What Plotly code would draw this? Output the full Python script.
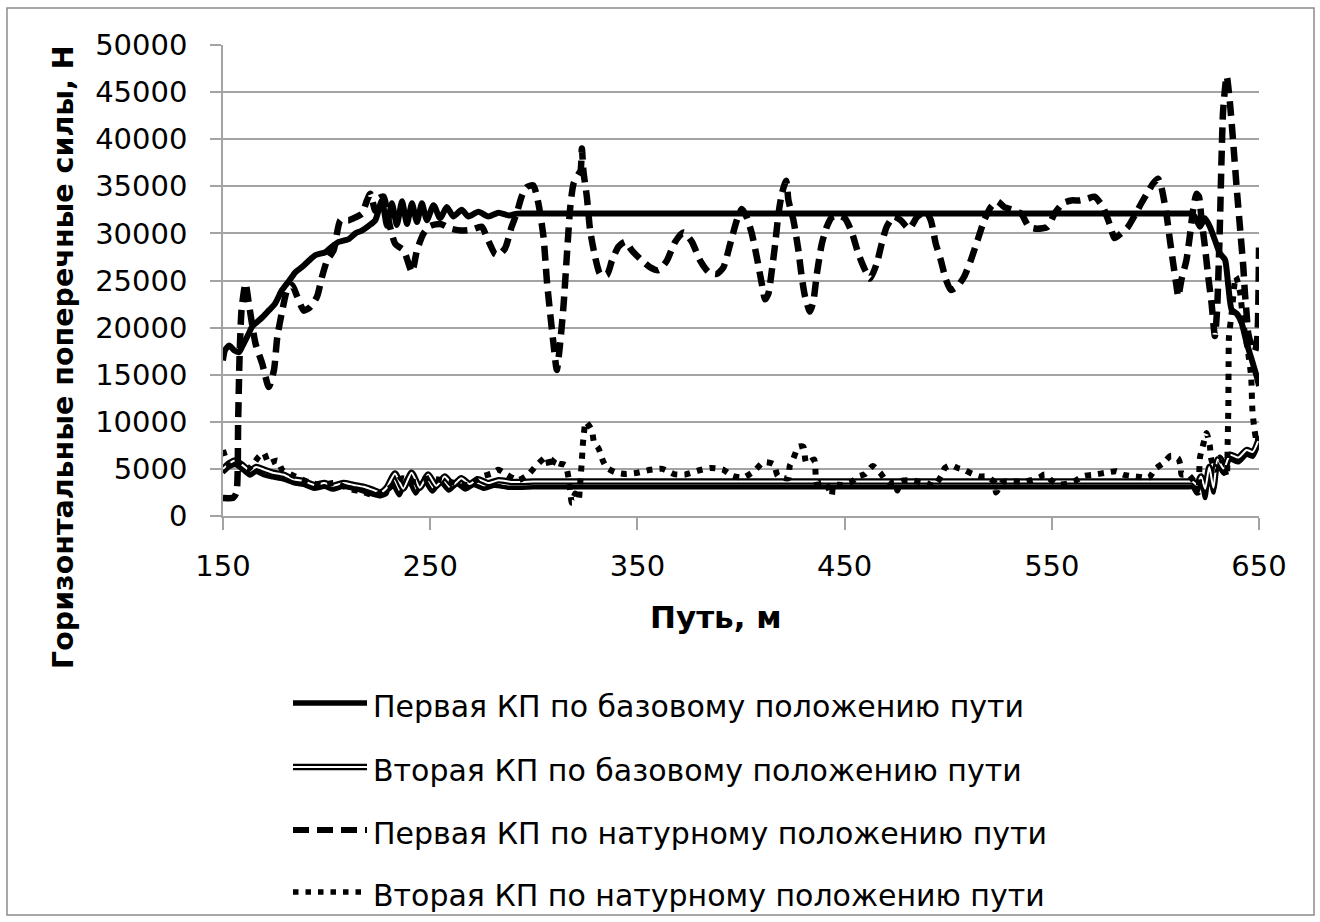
import plotly.graph_objects as go

# ---- data -------------------------------------------------------------
X_TICKS = [150, 250, 350, 450, 550, 650]
Y_TICKS = list(range(0, 50001, 5000))

SERIES_NAMES = [
    "Первая КП по базовому положению пути",
    "Вторая КП по базовому положению пути",
    "Первая КП по натурному положению пути",
    "Вторая КП по натурному положению пути",
]

# first wheelset, base track geometry (path m, force N)
FIRST_BASE = [
    (150, 16500), (151, 17600), (153, 18100), (155.3, 17600), (157.7, 17400),
    (159.3, 18000), (162.5, 19400), (164, 20100), (166.5, 20600), (169, 21100),
    (172, 21800), (175, 22500), (178.5, 24000), (182, 25000), (185, 25900),
    (188, 26400), (191.4, 27100), (194.6, 27700), (199.4, 28000), (202.6, 28600),
    (205.8, 29100), (210.7, 29400), (213.9, 30000), (217, 30300), (220.3, 30800),
    (223.5, 31400), (226.7, 33500), (229.1, 30800), (231.5, 33200), (233.9, 30900),
    (236.4, 33400), (238.8, 31000), (241.2, 33200), (243.6, 31200), (246, 33200),
    (248.4, 31400), (251.6, 33000), (254.8, 31600), (258, 32800), (261.2, 31800),
    (265.2, 32500), (268.4, 31800), (273.3, 32300), (278, 31800), (283, 32200),
    (288, 31900), (292, 32100), (300, 32100), (305, 32100), (610, 32100),
    (615, 32100), (617.5, 32100), (619, 31800),
    (621.5, 30700), (623.9, 31600), (626.3, 30700), (628.7, 29300), (631.1, 27900),
    (633.6, 27200), (635.2, 24400), (636.8, 21900), (639.2, 21500), (641.6, 20500),
    (644, 18400), (646.5, 16600), (648.9, 14800), (650, 13800),
]

# second wheelset, base track geometry: outlined trace and its lower companion
SECOND_BASE = [
    (150, 5000), (153, 5600), (156, 5900), (160, 5300), (163, 4800), (166, 5200),
    (170, 4900), (174, 4600), (179, 4400), (184, 3900), (189, 3700), (194, 3300),
    (199, 3500), (203, 3200), (208, 3500), (213, 3300), (218, 3100), (222, 2800),
    (226, 2500), (229, 3000), (233, 4500), (237, 2900), (241, 4600), (245, 3000),
    (249, 4400), (253, 3200), (257, 4200), (261, 3300), (265, 4000), (269, 3400),
    (273, 3900), (278, 3500), (283, 3800), (290, 3600), (300, 3650), (305, 3650),
    (610, 3650), (615, 3650), (618, 3650),
    (620, 3300), (622, 4200), (624, 2900), (626, 5200), (628, 3000), (630, 6000),
    (633, 5000), (636, 6500), (640, 6200), (644, 7000), (647, 6800), (650, 8200),
]
SECOND_BASE_LOWER = [
    (150, 4600), (153, 5200), (156, 5400), (160, 4800), (163, 4300), (166, 4700),
    (170, 4300), (174, 4100), (179, 3900), (184, 3500), (189, 3300), (194, 2900),
    (199, 3100), (203, 2800), (208, 3100), (213, 2900), (218, 2600), (222, 2300),
    (226, 2100), (229, 2400), (231, 3800), (235, 2200), (239, 4000), (243, 2400),
    (247, 3800), (251, 2600), (255, 3600), (259, 2700), (263, 3400), (267, 2800),
    (271, 3300), (276, 2900), (281, 3200), (288, 3000), (300, 3050), (305, 3050),
    (610, 3050), (615, 3050), (618, 3050),
    (620, 2400), (622, 3800), (624, 1900), (626, 4600), (628, 2500), (630, 5400),
    (633, 4500), (636, 6000), (640, 5700), (644, 6500), (647, 6300), (650, 7800),
]

# first wheelset, measured track geometry
FIRST_FIELD = [
    (150, 1900), (155, 1950), (156.5, 2500), (157.3, 10000), (158, 17000),
    (159, 22000), (160.9, 24700), (162.5, 22500), (165.7, 18300), (168.9, 16200),
    (172.1, 13700), (174.6, 15500), (176.2, 19000), (178.6, 21800), (181, 24000),
    (183.4, 24500), (185.8, 23300), (189, 21800), (192.2, 22200), (195.4, 23300),
    (197.8, 25400), (200.2, 27100), (203.4, 28200), (206.7, 31400), (210.7, 31400),
    (213.9, 31700), (217.1, 32100), (219.5, 33500), (221.1, 34200), (223.5, 32400),
    (225.1, 33700), (227.5, 33900), (229.9, 31400), (233.1, 28900), (237.2, 28200),
    (241.2, 25900), (243.6, 28200), (246.8, 30000), (250, 30800), (255, 31000),
    (260, 30500), (265, 30300), (270, 30400), (274.9, 30700), (277.3, 29600),
    (281.3, 27800), (282.9, 27700), (286.1, 28400), (289.3, 30700), (291.7, 32100),
    (294.1, 33900), (296.5, 34900), (299.7, 35100), (302.2, 33200), (304.7, 29600),
    (306.3, 25000), (307.9, 21500), (309.5, 18300), (311.1, 15500), (312.7, 18300),
    (314.4, 22500), (316, 27800), (317.6, 32800), (319.2, 35300), (321.6, 36300),
    (322.6, 36700), (323.2, 39000), (324, 36500), (325.6, 33900), (327.2, 30300),
    (329.6, 27500), (332, 25700), (335.3, 25600), (337.7, 27100), (340.9, 28600),
    (344.1, 29100), (347.3, 28200), (351.3, 27300), (356.2, 26400), (360.2, 26100),
    (364.2, 27100), (368.2, 29100), (372.2, 30100), (376.3, 29100), (380.3, 27100),
    (384.3, 25900), (388.3, 25700), (391.5, 26400), (394.8, 28900), (398, 31400),
    (400.4, 32600), (402.8, 31700), (405.2, 30000), (407.6, 27500), (410, 24700),
    (411.6, 23000), (413.2, 23600), (414.9, 26100), (416.5, 28900), (418.1, 32100),
    (419.7, 34200), (421.8, 35600), (422.9, 33500), (425.3, 31400), (427.7, 28200),
    (429.3, 25400), (430.9, 23300), (433.3, 21700), (435, 22900), (436.6, 25700),
    (439, 28900), (441.4, 30700), (443.8, 31700), (447, 31900), (450.2, 31600),
    (453.5, 30100), (456.7, 27800), (459.9, 26100), (462.3, 25200), (465.5, 26800),
    (467.9, 28900), (470.3, 30700), (473.9, 31800), (477.1, 31400), (481.1, 30500),
    (485.2, 31800), (489.2, 32300), (491.6, 31400), (494, 28900), (496.4, 27200),
    (498.9, 25100), (501.3, 24000), (504.5, 24400), (507.7, 25400), (511, 27200),
    (514.2, 29300), (517.4, 31400), (520.6, 32800), (523.8, 33400), (527, 32800),
    (531.1, 32500), (535.2, 32100), (539, 30700), (543, 30500), (548, 30700),
    (551.3, 32100), (555.3, 33200), (559.4, 33500), (563.4, 33500), (567.4, 33700),
    (570.6, 33900), (574.7, 32800), (577.9, 31000), (580.3, 29500), (583.5, 30000),
    (586.8, 30700), (590, 31900), (593.2, 33200), (596.4, 34400), (598.9, 35300),
    (601.3, 35800), (602.9, 34900), (605.3, 32100), (607, 29300), (608.6, 26800),
    (610.2, 24400), (611, 23300), (612.6, 25100), (615, 27200), (616.6, 29700),
    (618.2, 32500), (619.8, 34200), (621, 33900), (622.3, 31400), (623.9, 28600),
    (625.5, 25400), (627.1, 22600), (628.7, 19100), (629.8, 22000), (631.1, 30700),
    (631.9, 37800), (632.7, 43100), (634.4, 46700), (636, 43800), (637.6, 39500),
    (639.2, 34900), (640.8, 30700), (642.4, 26500), (643.2, 23700), (644, 21500),
    (644.8, 19400), (646.5, 18000), (648, 17500), (649.2, 19000), (650, 28500),
]

# second wheelset, measured track geometry
SECOND_FIELD = [
    (150, 7000), (152.9, 5400), (155.3, 5900), (157.7, 5600), (161.7, 4900),
    (164.9, 5600), (167.3, 6300), (169.7, 6700), (172.1, 5600), (176.2, 5900),
    (178.6, 4900), (185, 4200), (191.4, 3600), (197.8, 3300), (204.2, 3500),
    (210.7, 2900), (217.1, 2600), (223.5, 2200), (229.9, 2900), (236.3, 4000),
    (242.8, 3600), (249.2, 4000), (255.6, 3800), (262, 3500), (268.4, 3300),
    (274.9, 4200), (279.7, 4500), (282.9, 4900), (286.9, 4400), (292.5, 3800),
    (297.3, 4400), (301.4, 5400), (306.3, 6300), (307.9, 5100), (310.3, 6100),
    (311.9, 5600), (315.2, 5400), (316.8, 4000), (318.4, 1400), (320, 2400),
    (321.6, 1700), (322.4, 3500), (323.2, 5900), (323.6, 7400), (324.2, 8800),
    (325.1, 10000), (328, 9100), (329.1, 7800), (331.2, 7200), (333.3, 5900),
    (335.3, 5100), (339.8, 4600), (344.6, 4450), (350.1, 4600), (356.2, 4900),
    (362.1, 5000), (367.7, 4450), (373.1, 4400), (379, 4800), (385.1, 5100),
    (391.1, 4950), (396, 4250), (401.2, 4100), (406.5, 4800), (410.8, 5700),
    (415.7, 5500), (417.8, 4250), (422.9, 4000), (423.5, 5300), (425.3, 6100),
    (427.7, 7350), (430.1, 7350), (431, 6000), (431.7, 5600), (435.3, 6000),
    (436, 4500), (436.5, 3500), (440.6, 3600), (443.8, 2200), (444.6, 3300),
    (448.6, 3300), (452.6, 3500), (456.7, 4200), (459.9, 4450), (463.6, 5300),
    (467.1, 4600), (471.1, 3500), (474.4, 3500), (475.5, 2700), (477.1, 3700),
    (482, 3800), (486.8, 3600), (490, 3450), (493.3, 3200), (496.5, 4200),
    (498.4, 5100), (501.3, 5400), (504.5, 5100), (507.8, 4900), (511.3, 4500),
    (515, 4200), (518.3, 4200), (522.3, 3600), (523.1, 2500), (526.3, 3600),
    (531.2, 3700), (536, 3600), (540, 3800), (544.1, 4100), (546.5, 4400),
    (549.7, 3800), (553, 3350), (557.8, 3450), (561, 3700), (565.4, 4250),
    (570.7, 4400), (576.3, 4600), (581.2, 4750), (584.4, 4400), (588.4, 4250),
    (592.5, 4150), (596.8, 4050), (600, 5000), (603.7, 5600), (607.5, 6400),
    (611, 6100), (612.3, 5200), (612.6, 4400), (615.8, 4400), (619.1, 3500),
    (620.7, 2500), (621.5, 6200), (623.1, 7600), (624.7, 8800), (626.3, 7400),
    (626.8, 6200), (628.8, 4900), (631.2, 6200), (632.8, 5500), (634.4, 4200),
    (634.9, 8100), (635.2, 11600), (635.3, 15200), (635.5, 19000), (636.8, 21500),
    (638.8, 25400), (640.9, 23700), (642.4, 20500), (644.6, 17600), (646.2, 14800),
    (646.8, 11300), (647.8, 9200), (649, 7800), (650, 8500),
]

# ---- layout geometry --------------------------------------------------
W, H = 1320, 922
ML, MR, MT, MB = 223, 61, 45, 406
FONT = "DejaVu Sans"
GRID = "#a3a3a3"


def fx(px):
    """page x pixel -> paper coordinate"""
    return (px - ML) / (W - ML - MR)


def fy(py):
    """page y pixel -> paper coordinate"""
    return (H - MB - py) / (H - MT - MB)


def xs(pts):
    return [p[0] for p in pts]


def ys(pts):
    return [p[1] for p in pts]


SMOOTH = 0.6
fig = go.Figure()

fig.add_trace(go.Scatter(
    x=xs(FIRST_BASE), y=ys(FIRST_BASE), mode="lines", name=SERIES_NAMES[0],
    line=dict(color="black", width=6, shape="spline", smoothing=SMOOTH),
))
fig.add_trace(go.Scatter(
    x=xs(SECOND_BASE_LOWER), y=ys(SECOND_BASE_LOWER), mode="lines",
    name=SERIES_NAMES[1], legendgroup="b2",
    line=dict(color="black", width=4.5, shape="spline", smoothing=SMOOTH),
))
fig.add_trace(go.Scatter(
    x=xs(SECOND_BASE), y=ys(SECOND_BASE), mode="lines",
    name=SERIES_NAMES[1], legendgroup="b2",
    line=dict(color="black", width=6.5, shape="spline", smoothing=SMOOTH),
))
fig.add_trace(go.Scatter(
    x=xs(SECOND_BASE), y=ys(SECOND_BASE), mode="lines",
    name=SERIES_NAMES[1], legendgroup="b2",
    line=dict(color="white", width=2, shape="spline", smoothing=SMOOTH),
))
fig.add_trace(go.Scatter(
    x=xs(FIRST_FIELD), y=ys(FIRST_FIELD), mode="lines", name=SERIES_NAMES[2],
    line=dict(color="black", width=6.5, dash="15px,8px",
              shape="spline", smoothing=SMOOTH),
))
fig.add_trace(go.Scatter(
    x=xs(SECOND_FIELD), y=ys(SECOND_FIELD), mode="lines", name=SERIES_NAMES[3],
    line=dict(color="black", width=6, dash="6px,7px",
              shape="spline", smoothing=SMOOTH),
))

# ---- hand-placed legend under the plot --------------------------------
LEG_X0, LEG_X1, LEG_TEXT_X = 293, 367, 371
LEG_ROWS = [703, 767, 830, 892]

shapes = [
    # outer chart frame
    dict(type="rect", xref="paper", yref="paper",
         x0=fx(7), x1=fx(1314), y0=fy(915), y1=fy(8),
         line=dict(color="#8c8c8c", width=1.5), fillcolor="rgba(0,0,0,0)"),
]
legend_styles = [
    [dict(color="black", width=5.5)],
    [dict(color="black", width=6.5), dict(color="white", width=2.2)],
    [dict(color="black", width=6, dash="16px,8px")],
    [dict(color="black", width=5.5, dash="5.5px,7px")],
]
annotations = []
for row_y, styles, label in zip(LEG_ROWS, legend_styles, SERIES_NAMES):
    for st in styles:
        shapes.append(dict(type="line", xref="paper", yref="paper",
                           x0=fx(LEG_X0), x1=fx(LEG_X1),
                           y0=fy(row_y), y1=fy(row_y), line=st))
    annotations.append(dict(
        xref="paper", yref="paper", x=fx(LEG_TEXT_X), y=fy(row_y + 3),
        xanchor="left", yanchor="middle", showarrow=False, text=label,
        font=dict(family=FONT, size=30, color="black"),
    ))

# axis titles
annotations.append(dict(
    xref="paper", yref="paper", x=fx(63), y=fy(357), textangle=-90,
    xanchor="center", yanchor="middle", showarrow=False,
    text="<b>Горизонтальные поперечные силы, Н</b>",
    font=dict(family=FONT, size=28.5, color="black"),
))
annotations.append(dict(
    xref="paper", yref="paper", x=fx(716), y=fy(617),
    xanchor="center", yanchor="middle", showarrow=False,
    text="<b>Путь, м</b>",
    font=dict(family=FONT, size=31, color="black"),
))

fig.update_layout(
    width=W, height=H,
    margin=dict(l=ML, r=MR, t=MT, b=MB),
    paper_bgcolor="white", plot_bgcolor="white",
    showlegend=False,
    shapes=shapes, annotations=annotations,
    font=dict(family=FONT, color="black"),
)
fig.update_xaxes(
    range=[150, 650], tickvals=X_TICKS, ticktext=[str(v) for v in X_TICKS],
    showgrid=False, zeroline=False,
    showline=True, linecolor=GRID, linewidth=1.5,
    ticks="outside", ticklen=12, tickcolor=GRID, tickwidth=1.5,
    ticklabelstandoff=11,
    tickfont=dict(family=FONT, size=29, color="black"),
)
fig.update_yaxes(
    range=[0, 50000], tickvals=Y_TICKS, ticktext=[str(v) for v in Y_TICKS],
    showgrid=True, gridcolor=GRID, gridwidth=1.5, zeroline=False,
    showline=True, linecolor=GRID, linewidth=1.5,
    ticks="outside", ticklen=11, tickcolor=GRID, tickwidth=1.5,
    ticklabelstandoff=17,
    tickfont=dict(family=FONT, size=29, color="black"),
)

fig.write_html("out.html")
